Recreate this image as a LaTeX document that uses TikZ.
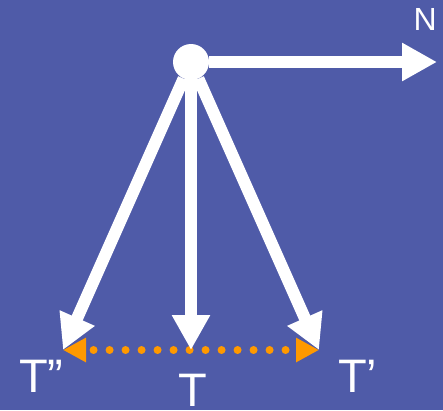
\documentclass[tikz,border=0pt]{standalone}
\usepackage{fontspec}
\setmainfont{Liberation Sans}
\usetikzlibrary{arrows.meta}
\definecolor{slideblue}{RGB}{79,91,168}
\definecolor{swingorange}{RGB}{255,153,0}
\tikzset{
  pointer/.style={-{Triangle[length=35pt,width=36pt]},draw=white,line width=12pt},
  swing/.style={{Triangle[length=23pt,width=23pt]}-{Triangle[length=23pt,width=23pt]},
    draw=swingorange,line width=8pt,line cap=round,
    dash pattern=on 0pt off 16pt,dash phase=7pt},
  hub/.style={circle,fill=white,minimum size=36pt,inner sep=0pt},
  biglbl/.style={text=white,inner sep=0pt,font=\fontsize{47}{47}\selectfont},
  smalllbl/.style={text=white,inner sep=0pt,font=\fontsize{32}{32}\selectfont}
}

\begin{document}
\begin{tikzpicture}[x=1pt,y=-1pt]
  \fill[slideblue] (0,0) rectangle (443,410);
  \useasboundingbox (0,0) rectangle (443,410);

  % pivot and the north direction
  \node[hub] (pivot) at (191,62) {};
  \coordinate (north) at (437,62);
  \node[smalllbl,anchor=base east] (nlbl) at (437,30) {N};

  % the three tension positions
  \coordinate (tleft) at (63,350);
  \coordinate (tmid) at (191,350);
  \coordinate (tright) at (319,350);

  \draw[swing] (tleft) -- (tright);

  \draw[pointer] (pivot) -- (north);
  \draw[pointer] (pivot) -- (tleft);
  \draw[pointer] (pivot.center) -- (tmid);
  \draw[pointer] (pivot) -- (tright);

  % labels
  \node[biglbl,anchor=base west] (lleft) at (19,392) {T”};
  \node[biglbl,anchor=base] (lmid) at (193,406) {T};
  \node[biglbl,anchor=base west] (lright) at (338,392) {T’};
\end{tikzpicture}
\end{document}
